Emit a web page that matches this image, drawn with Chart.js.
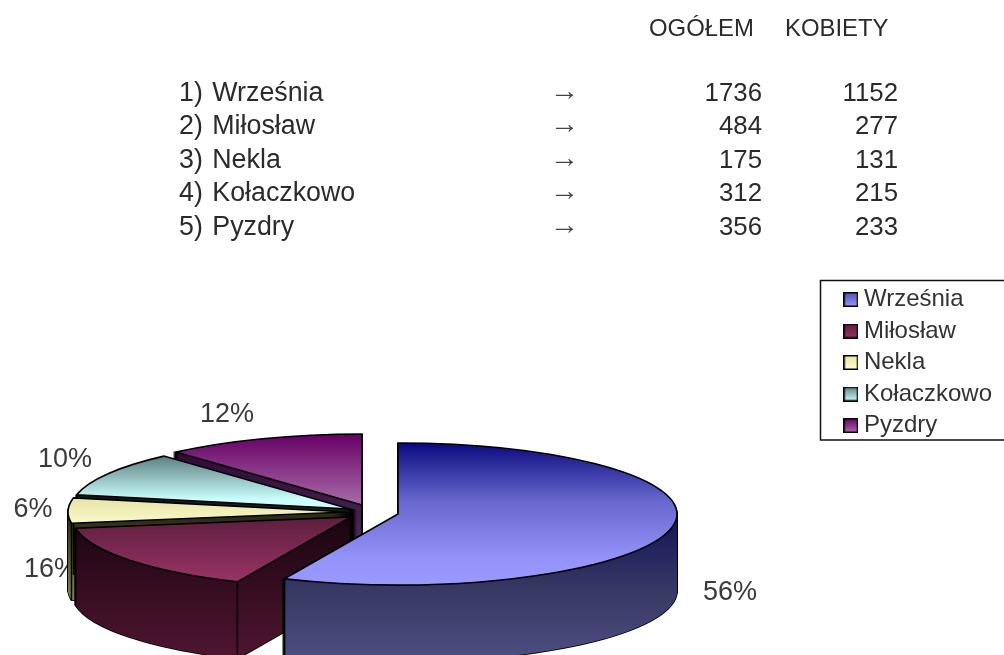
<!DOCTYPE html>
<html><head><meta charset="utf-8">
<script src="https://cdn.jsdelivr.net/npm/chart.js@4"></script>
<style>
html,body{margin:0;padding:0;background:#fff;overflow:hidden}
#page{position:relative;width:1004px;height:655px;filter:blur(0.55px);font-family:"Liberation Sans",Arial,sans-serif;color:#2b2b2b}
#page canvas{position:absolute;left:0;top:0}
.t{position:absolute;font-size:25.8px;line-height:30px;white-space:nowrap}
.h{font-size:23.9px}
.n{font-size:26.8px;word-spacing:2px}
.r{text-align:right}
.a{font-family:"Liberation Serif",serif;font-size:29px;font-weight:normal;color:#444}
</style></head>
<body><div id="page"><canvas id="c" width="1004" height="655"></canvas></div>
<script>
const categories = ['Września','Miłosław','Nekla','Kołaczkowo','Pyzdry'];
const ogolem = [1736,484,175,312,356];
const kobiety = [1152,277,131,215,233];
const percentLabels = ['56%','16%','6%','10%','12%'];
const headers = ['OGÓŁEM','KOBIETY'];

// ---- presentation constants
const rx = 279, ry = 71, depth = 77;
const apex = [[398,514],[351,517],[347,512],[350,509],[362,505]];
const topStops = [
  [[443,'#0a0a80'],[500,'#6666cc'],[560,'#9494fb'],[586,'#9999ff']],
  [[517,'#5e1e3d'],[582,'#993366']],
  [[498,'#e6e4aa'],[523,'#fbf9c4']],
  [[456,'#5c7f7f'],[500,'#ccffff']],
  [[434,'#660066'],[505,'#aa6ca8']]
];
const sideStops = [
  [[513,'#12125a'],[590,'#383864'],[655,'#4c4c80']],
  [[517,'#1a0510'],[655,'#4e1530']],
  [[520,'#2e2e18'],[600,'#85855a']],
  [[496,'#0e1c1c'],[580,'#304848']],
  [[453,'#32083a'],[540,'#4a2c50']]
];
const legendStops = [['#4f4fae','#9999ff'],['#5e1e3d','#993366'],['#e6e4aa','#ffffcc'],['#5c7f7f','#ccffff'],['#660066','#aa6ca8']];
const labelPos = [[730,593],[51,570],[33,510],[65,460],[227,415]];
const drawOrder = [4,3,2,1,0];

// ---- table text
const page = document.getElementById('page');
function txt(s,x,y,cls,w){
  const d=document.createElement('div');d.className='t '+(cls||'');d.textContent=s;
  d.style.top=(y-15)+'px';
  if(w!==undefined){d.style.left=(x-w)+'px';d.style.width=w+'px';}else d.style.left=x+'px';
  page.appendChild(d);
}
txt(headers[0],649,28,'h');txt(headers[1],785,28,'h');
const rowY=[91.5,125,158.5,192,226];
categories.forEach((c,i)=>{
  txt((i+1)+') '+c,179,rowY[i],'n');
  txt('→',550,rowY[i]-2,'a');
  txt(String(ogolem[i]),762,rowY[i],'r',100);
  txt(String(kobiety[i]),898,rowY[i],'r',100);
});

// ---- legend markers
function marker(st){
  const m=document.createElement('canvas');m.width=15;m.height=15;
  const x=m.getContext('2d');const g=x.createLinearGradient(0,0,0,15);
  g.addColorStop(0,st[0]);g.addColorStop(1,st[1]);
  x.fillStyle=g;x.fillRect(0,0,15,15);x.strokeStyle='#000';x.lineWidth=1.5;x.strokeRect(.75,.75,13.5,13.5);
  return m;
}
const markers=legendStops.map(marker);

function grad(ctx,stops,arc,originY,sy){
  const y0=stops[0][0],y1=stops[stops.length-1][0];
  const L=v=>arc.y+(v-originY)/sy;
  const g=ctx.createLinearGradient(0,L(y0),0,L(y1));
  stops.forEach(s=>g.addColorStop((s[0]-y0)/(y1-y0),s[1]));
  return g;
}
function place(ctx,arc,i,k,opts){
  const sx=rx/arc.outerRadius,sy=ry/arc.outerRadius;
  const saved=arc.options;
  arc.options=Object.assign({},saved,opts);
  ctx.save();
  ctx.translate(apex[i][0],apex[i][1]+k);
  ctx.scale(sx,sy);
  ctx.translate(-arc.x,-arc.y);
  arc.draw(ctx);
  ctx.restore();
  arc.options=saved;
}
const pie3d={
  id:'pie3d',
  beforeDatasetsDraw(chart){
    const ctx=chart.ctx;
    const arcs=chart.getDatasetMeta(0).data;
    // legend frame
    ctx.save();ctx.strokeStyle='#111';ctx.lineWidth=1.5;
    ctx.beginPath();ctx.moveTo(1004,280.5);ctx.lineTo(820.5,280.5);ctx.lineTo(820.5,440);ctx.lineTo(1004,440);ctx.stroke();
    // percent labels sit under the pie
    ctx.fillStyle='#3a3a3a';ctx.font='27px "Liberation Sans"';ctx.textAlign='center';ctx.textBaseline='middle';
    percentLabels.forEach((p,i)=>ctx.fillText(p,labelPos[i][0],labelPos[i][1]));
    ctx.restore();
    // strokes keep a uniform width despite the squash
    ctx.stroke=function(){
      ctx.save();ctx.setTransform(1,0,0,1,0,0);
      CanvasRenderingContext2D.prototype.stroke.call(ctx);ctx.restore();
    };
    drawOrder.forEach(i=>{
      const arc=arcs[i];
      const sy=ry/arc.outerRadius;
      for(let k=depth;k>=1;k--)
        place(ctx,arc,i,k,{backgroundColor:'rgba(0,0,0,0)',borderColor:'#000',borderWidth:1.6,borderJoinStyle:'miter'});
      for(let k=depth;k>=1;k--)
        place(ctx,arc,i,k,{backgroundColor:grad(ctx,sideStops[i],arc,apex[i][1]+k,sy),borderWidth:0});
      // vertical edges at corners (apex edge is hidden on a slice wider than a half-turn)
      ctx.save();ctx.strokeStyle='#000';ctx.lineWidth=1.5;ctx.beginPath();
      const ax=apex[i][0],ay=apex[i][1];
      const edges=[[ax+rx*Math.cos(arc.startAngle),ay+ry*Math.sin(arc.startAngle)],
       [ax+rx*Math.cos(arc.endAngle),ay+ry*Math.sin(arc.endAngle)]];
      if(arc.circumference<Math.PI) edges.push([ax,ay]);
      edges.forEach(p=>{ctx.moveTo(p[0],p[1]);ctx.lineTo(p[0],p[1]+depth);});
      ctx.stroke();ctx.restore();
      place(ctx,arc,i,0,{backgroundColor:grad(ctx,topStops[i],arc,apex[i][1],sy),borderColor:'#000',borderWidth:1.6,borderJoinStyle:'miter'});
    });
    delete ctx.stroke;
    return false;
  }
};

new Chart(document.getElementById('c'),{
  type:'pie',
  data:{labels:categories,datasets:[{data:ogolem,backgroundColor:legendStops.map(s=>s[1]),borderWidth:0}]},
  options:{
    responsive:false,animation:false,
    layout:{padding:{top:280,right:2,left:0,bottom:0}},
    plugins:{
      tooltip:{enabled:false},
      legend:{
        position:'right',align:'start',
        labels:{
          font:{family:'"Liberation Sans"',size:24,lineHeight:1},
          color:'#333',usePointStyle:true,pointStyleWidth:2,boxHeight:15,padding:7.5,
          generateLabels:()=>categories.map((c,i)=>({text:c,pointStyle:markers[i],fillStyle:legendStops[i][1],strokeStyle:'#000',lineWidth:0,hidden:false,index:i,rotation:0,fontColor:'#333'}))
        }
      }
    }
  },
  plugins:[pie3d]
});
</script></body></html>
